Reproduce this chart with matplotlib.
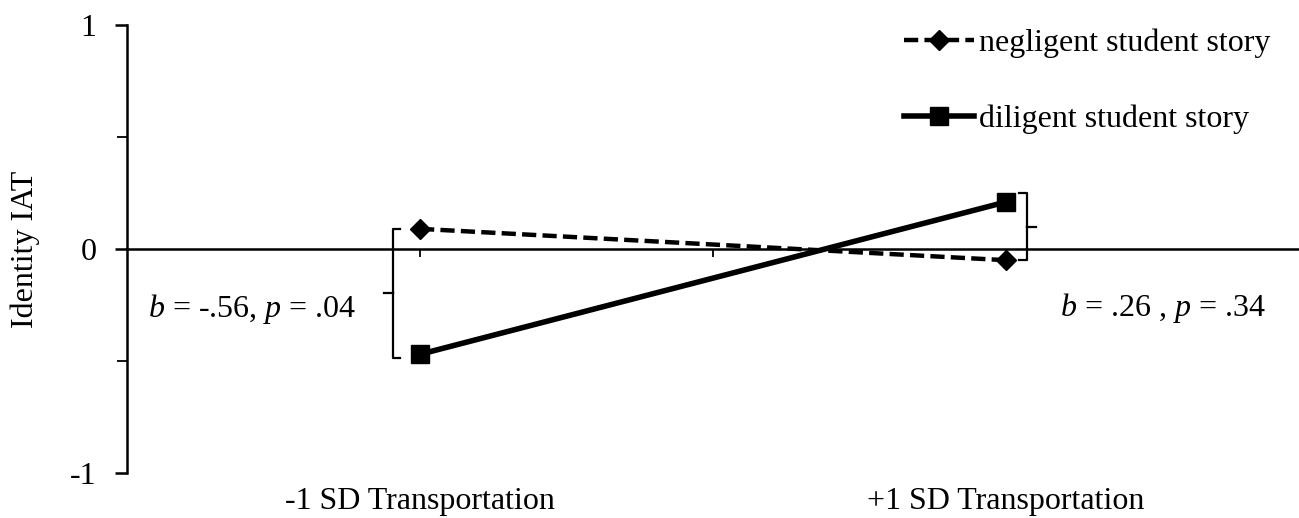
import numpy as np
import matplotlib
matplotlib.use("Agg")
import matplotlib.pyplot as plt

# data
categories = ["-1 SD Transportation", "+1 SD Transportation"]
negligent = [0.09, -0.05]
diligent = [-0.47, 0.21]
series_names = ["negligent student story", "diligent student story"]
left_note = "$b$ = -.56, $p$ = .04"
right_note = "$b$ = .26 , $p$ = .34"

plt.rcParams["font.family"] = "Liberation Serif"
plt.rcParams["mathtext.fontset"] = "custom"
plt.rcParams["mathtext.it"] = "Liberation Serif:italic"
plt.rcParams["mathtext.rm"] = "Liberation Serif"
fs = 23

fig = plt.figure(figsize=(12.99, 5.18), dpi=100)
ax = fig.add_axes([127 / 1299, 45 / 518, 1 - 127 / 1299, 448 / 518])

xpos = np.arange(len(categories)) + 0.5

ax.plot(xpos, negligent, color="black", lw=3.2, dashes=(3.2, 1.4),
        marker="D", ms=10, label=series_names[0])
ax.plot(xpos, diligent, color="black", lw=4, marker="s", ms=13,
        label=series_names[1])

ax.set_xlim(0, 2)
ax.set_ylim(-1, 1)

# axes styling like the excel chart
for s in ["top", "right"]:
    ax.spines[s].set_visible(False)
ax.spines["bottom"].set_position(("data", 0))
ax.spines["left"].set_linewidth(1.8)
ax.spines["bottom"].set_linewidth(1.8)
ax.set_xticks([0.5, 1.0, 1.5])
ax.set_xticklabels([])
ax.tick_params(axis="x", direction="out", length=6, width=1.3)
ax.set_yticks([-1, 0, 1])
ax.set_yticklabels(["-1", "0", "1"], fontsize=fs)
ax.set_yticks([-0.5, 0.5], minor=True)
ax.tick_params(axis="y", which="major", direction="out", length=9, width=1.8, pad=13)
ax.tick_params(axis="y", which="minor", direction="out", length=7, width=1.3)
ax.set_ylabel("Identity IAT", fontsize=fs, va="center")
ax.yaxis.set_label_coords(-0.087, 0.5)

for x, lab in zip(xpos, categories):
    ax.text(x, -1.125, lab, ha="center", va="center", fontsize=fs)

# braces next to the simple slopes
def brace(x, y1, y2, side):
    h = 0.012 * side
    t = 0.016 * side
    ym = (y1 + y2) / 2
    ax.plot([x + h, x, x], [y1, y1, ym], color="black", lw=1.6, solid_joinstyle="round")
    ax.plot([x, x, x + h], [ym, y2, y2], color="black", lw=1.6, solid_joinstyle="round")
    ax.plot([x, x - t], [ym, ym], color="black", lw=1.6)

brace(xpos[0] - 0.046, negligent[0], diligent[0] - 0.015, 1)
brace(xpos[1] + 0.035, diligent[1] + 0.04, negligent[1], -1)

ax.text(0.036, -0.27, left_note, ha="left", va="center", fontsize=fs)
ax.text(1.592, -0.265, right_note, ha="left", va="center", fontsize=fs)

leg = ax.legend(loc="upper right", bbox_to_anchor=(1.0, 1.0),
                bbox_transform=fig.transFigure, frameon=False, fontsize=fs,
                handlelength=2.2, handletextpad=0.15, labelspacing=1.45)

fig.savefig("out.png", dpi=100)
